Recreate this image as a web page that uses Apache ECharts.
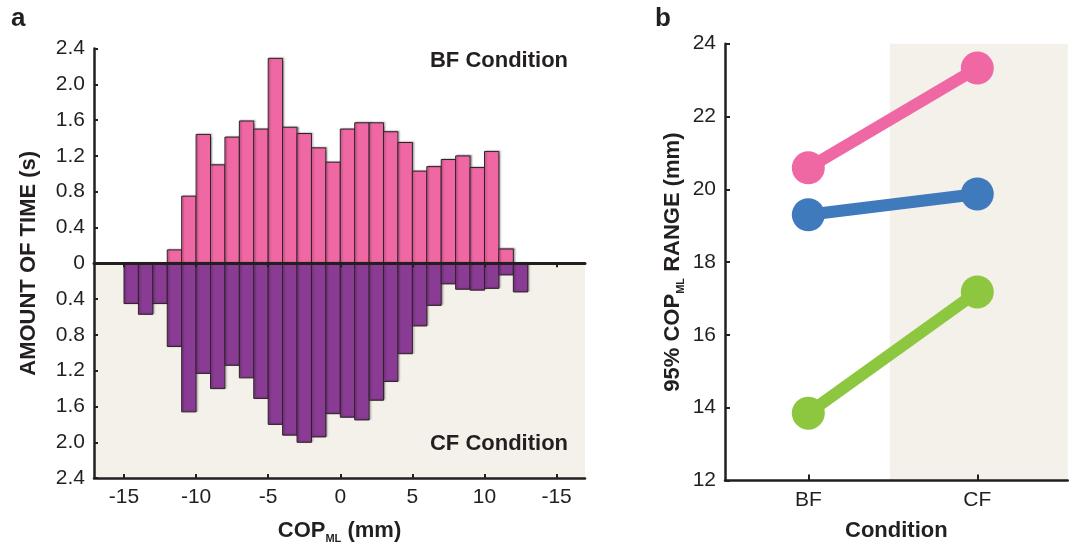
<!DOCTYPE html>
<html>
<head>
<meta charset="utf-8">
<script src="https://cdn.jsdelivr.net/npm/echarts@6/dist/echarts.min.js"></script>
<style>
  html, body { margin: 0; padding: 0; background: #ffffff; }
  #chart { width: 1072px; height: 543px; }
</style>
</head>
<body>
<div id="chart"></div>
<script>
// Histogram bins of COP_ML (mm): edges of 1 mm bins
const binEdges = [-15, -14, -13, -12, -11, -10, -9, -8, -7, -6, -5, -4, -3, -2, -1,
                  0, 1, 2, 3, 4, 5, 6, 7, 8, 9, 10, 11, 12, 13];
// Amount of time (s) spent in each bin
const bfTime = [0, 0, 0, 0.15, 0.75, 1.44, 1.10, 1.41, 1.59, 1.50, 2.29, 1.52, 1.45, 1.29, 1.13,
                1.50, 1.57, 1.57, 1.47, 1.35, 1.03, 1.08, 1.16, 1.20, 1.07, 1.25, 0.16, 0];
const cfTime = [0.45, 0.57, 0.45, 0.93, 1.66, 1.23, 1.40, 1.14, 1.28, 1.51, 1.80, 1.92, 2.00, 1.94, 1.68,
                1.72, 1.75, 1.53, 1.32, 1.01, 0.70, 0.47, 0.23, 0.29, 0.30, 0.28, 0.13, 0.32];
const copTickValues = [-15, -10, -5, 0, 5, 10, 15];
const copTickLabels = ['-15', '-10', '-5', '0', '5', '10', '-15'];

// 95% COP_ML range (mm) per condition
const conditions = ['BF', 'CF'];
const conditionPos = [1, 2];
const rangePink = [20.59, 23.33];
const rangeBlue = [19.30, 19.87];
const rangeGreen = [13.85, 17.18];

const FONT = '"Liberation Sans", Arial, Helvetica, sans-serif';
const INK = '#231f20';
const BEIGE = '#f4f0ea';
const PINK = '#ef68a4';
const PURPLE = '#8a3b94';

function binData(values, sign) {
  const out = [];
  values.forEach((v, i) => {
    if (v > 0) out.push([binEdges[i], binEdges[i + 1], sign * v]);
  });
  return out;
}

function barRenderer(fill) {
  return function (params, api) {
    const lo = api.value(0), hi = api.value(1), v = api.value(2);
    const p0 = api.coord([lo, 0]);
    const p1 = api.coord([hi, v]);
    return {
      type: 'rect',
      shape: {
        x: p0[0], y: Math.min(p0[1], p1[1]),
        width: p1[0] - p0[0], height: Math.abs(p1[1] - p0[1])
      },
      style: {
        fill: fill, stroke: '#2b2326', lineWidth: 1,
        shadowColor: 'rgba(0,0,0,0.28)', shadowBlur: 1.5, shadowOffsetX: 1.5, shadowOffsetY: -0.5
      }
    };
  };
}

const subRich = {
  t: { fontFamily: FONT, fontWeight: 'bold', fontSize: 22, color: INK, lineHeight: 26, verticalAlign: 'middle' },
  s: { fontFamily: FONT, fontWeight: 'bold', fontSize: 11, color: INK, lineHeight: 15, verticalAlign: 'bottom' }
};

const titleStyle = { fontFamily: FONT, fontWeight: 'bold', fontSize: 22, color: INK };
const tickLabelStyle = { fontFamily: FONT, fontSize: 21, color: INK };

const chart = echarts.init(document.getElementById('chart'), null, { renderer: 'canvas' });

chart.setOption({
  animation: false,
  backgroundColor: '#ffffff',
  grid: [
    { left: 94, top: 48.5, width: 491, height: 429.6, outerBoundsMode: 'none', containLabel: false },
    { left: 725, top: 43.7, width: 342.7, height: 436.8, outerBoundsMode: 'none', containLabel: false }
  ],
  xAxis: [
    {
      gridIndex: 0, type: 'value', min: -17.08, max: 16.97, position: 'bottom', z: 10,
      axisLine: { onZero: false, lineStyle: { color: INK, width: 2.5 } },
      axisTick: { inside: true, length: 4, lineStyle: { color: INK, width: 2 }, customValues: copTickValues },
      axisLabel: {
        ...tickLabelStyle, margin: 9, customValues: copTickValues,
        formatter: v => copTickLabels[copTickValues.indexOf(Math.round(v))]
      },
      splitLine: { show: false },
      name: '{t|COP}{s|ML}{t| (mm)}', nameLocation: 'middle', nameGap: 40,
      nameTextStyle: { rich: subRich }
    },
    {
      gridIndex: 0, type: 'value', min: -17.08, max: 16.97, position: 'top', z: 10,
      axisLine: { onZero: true, lineStyle: { color: INK, width: 3 } },
      axisTick: { inside: true, length: 4, lineStyle: { color: INK, width: 2 }, customValues: copTickValues },
      axisLabel: { show: false },
      splitLine: { show: false }
    },
    {
      gridIndex: 1, type: 'value', min: 0.507, max: 2.535, z: 10,
      axisLine: { onZero: false, lineStyle: { color: INK, width: 2.5 } },
      axisTick: { inside: true, length: 6, lineStyle: { color: INK, width: 2 }, customValues: conditionPos },
      axisLabel: {
        ...tickLabelStyle, margin: 9, customValues: conditionPos,
        formatter: v => conditions[conditionPos.indexOf(Math.round(v))]
      },
      splitLine: { show: false },
      name: 'Condition', nameLocation: 'middle', nameGap: 39,
      nameTextStyle: titleStyle
    }
  ],
  yAxis: [
    {
      gridIndex: 0, type: 'value', min: -2.4, max: 2.4, interval: 0.4, z: 10,
      axisLine: { show: true, onZero: false, lineStyle: { color: INK, width: 2.5 } },
      axisTick: { show: true, inside: true, length: 4, lineStyle: { color: INK, width: 2 } },
      axisLabel: {
        ...tickLabelStyle, margin: 9,
        formatter: v => Math.abs(v) < 1e-9 ? '0' : Math.abs(v).toFixed(1)
      },
      splitLine: { show: false },
      name: 'AMOUNT OF TIME (s)', nameLocation: 'middle', nameGap: 54, nameRotate: 90,
      nameTextStyle: titleStyle
    },
    {
      gridIndex: 1, type: 'value', min: 12, max: 24, interval: 2, z: 10,
      axisLine: { show: true, onZero: false, lineStyle: { color: INK, width: 2.5 } },
      axisTick: { show: true, inside: true, length: 5, lineStyle: { color: INK, width: 2 } },
      axisLabel: { ...tickLabelStyle, margin: 9 },
      splitLine: { show: false },
      name: '{t|95% COP}{s|ML}{t| RANGE (mm)}', nameLocation: 'middle', nameGap: 39, nameRotate: 90,
      nameTextStyle: { rich: subRich }
    }
  ],
  series: [
    {
      type: 'custom', name: 'BF', xAxisIndex: 0, yAxisIndex: 0,
      encode: { x: [0, 1], y: 2 },
      data: binData(bfTime, 1),
      renderItem: barRenderer(PINK)
    },
    {
      type: 'custom', name: 'CF', xAxisIndex: 0, yAxisIndex: 0,
      encode: { x: [0, 1], y: 2 },
      data: binData(cfTime, -1),
      renderItem: barRenderer(PURPLE),
      markArea: {
        silent: true,
        itemStyle: { color: BEIGE },
        data: [[{ yAxis: 0 }, { yAxis: -2.4 }]]
      }
    },
    {
      type: 'line', name: 'pink', xAxisIndex: 2, yAxisIndex: 1,
      data: conditionPos.map((x, i) => [x, rangePink[i]]),
      symbol: 'circle', symbolSize: 33,
      lineStyle: { color: PINK, width: 12 }, itemStyle: { color: PINK },
      markArea: {
        silent: true,
        itemStyle: { color: BEIGE },
        data: [[{ xAxis: 1.483 }, { xAxis: 2.535 }]]
      }
    },
    {
      type: 'line', name: 'blue', xAxisIndex: 2, yAxisIndex: 1,
      data: conditionPos.map((x, i) => [x, rangeBlue[i]]),
      symbol: 'circle', symbolSize: 33,
      lineStyle: { color: '#3f7abd', width: 12 }, itemStyle: { color: '#3f7abd' }
    },
    {
      type: 'line', name: 'green', xAxisIndex: 2, yAxisIndex: 1,
      data: conditionPos.map((x, i) => [x, rangeGreen[i]]),
      symbol: 'circle', symbolSize: 33,
      lineStyle: { color: '#8dc63f', width: 12 }, itemStyle: { color: '#8dc63f' }
    }
  ],
  graphic: [
    { type: 'text', left: 11, top: 6, style: { text: 'a', fontFamily: FONT, fontWeight: 'bold', fontSize: 26, fill: INK } },
    { type: 'text', left: 655, top: 6, style: { text: 'b', fontFamily: FONT, fontWeight: 'bold', fontSize: 26, fill: INK } },
    { type: 'text', x: 499, y: 61, style: { text: 'BF Condition', fontFamily: FONT, fontWeight: 'bold', fontSize: 22, fill: INK, align: 'center', verticalAlign: 'middle' } },
    { type: 'text', x: 499, y: 444, z: 20, style: { text: 'CF Condition', fontFamily: FONT, fontWeight: 'bold', fontSize: 22, fill: INK, align: 'center', verticalAlign: 'middle' } }
  ]
});
</script>
</body>
</html>
